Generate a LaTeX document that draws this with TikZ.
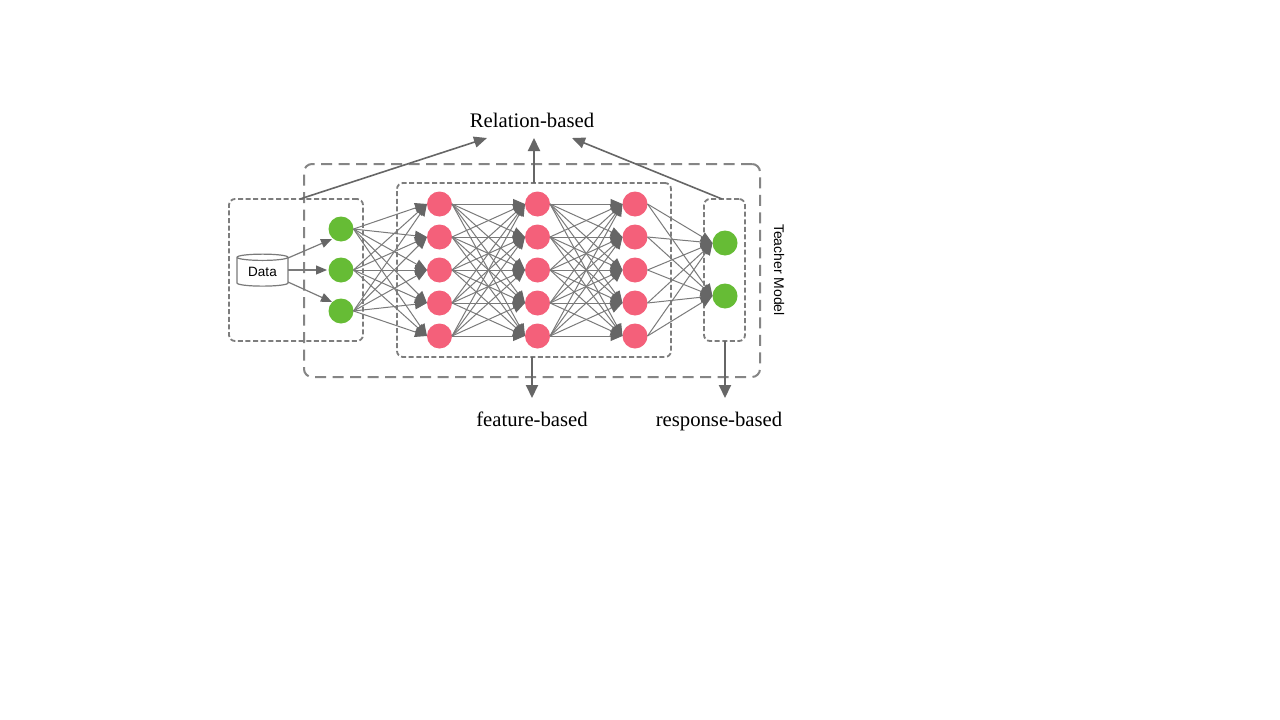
\documentclass[tikz,border=0pt]{standalone}
\usepackage{fontspec}
\setmainfont{Liberation Serif}
\setsansfont{Liberation Sans}
\usetikzlibrary{arrows.meta,shapes.geometric}
\definecolor{redn}{HTML}{F4607A}
\definecolor{greenn}{HTML}{66BC35}
\definecolor{lin}{HTML}{666666}
\definecolor{linl}{HTML}{7A7A7A}
\tikzset{
 x=1pt,y=-1pt,
 rednode/.style={circle,fill=redn,minimum size=25pt,inner sep=0pt,outer sep=0pt},
 greennode/.style={circle,fill=greenn,minimum size=25pt,inner sep=0pt,outer sep=0pt},
 box/.style={draw=lin!85,line width=1.8pt,dash pattern=on 5pt off 2.6pt,rounded corners=6pt,inner sep=0pt,outer sep=0pt,anchor=north west},
 outerbox/.style={draw=lin!80,line width=2pt,dash pattern=on 11pt off 6.5pt,rounded corners=8pt,inner sep=0pt,outer sep=0pt,anchor=north west},
 edge/.style={draw=linl,line width=1pt,-{Triangle[length=12pt,width=10pt,color=lin]}},
 thick edge/.style={draw=lin,line width=2pt,-{Triangle[length=13pt,width=12pt]}},
 slant edge/.style={draw=lin,line width=1.6pt,-{Triangle[length=13pt,width=11pt]}},
 dataedge/.style={draw=linl,line width=1.2pt,-{Triangle[length=11pt,width=9pt,color=lin]}},
 label/.style={font=\fontsize{20.7}{22}\selectfont,text=black,inner sep=0pt,anchor=base},
}
\begin{document}
\begin{tikzpicture}
\useasboundingbox (0,0) rectangle (1280,720);
\fill[white] (0,0) rectangle (1280,720);
% dashed boxes
\node[outerbox,minimum width=456pt,minimum height=213pt] (teacher) at (304,164) {};
\node[box,minimum width=134pt,minimum height=142pt] (inbox) at (229,199) {};
\node[box,minimum width=274pt,minimum height=174pt] (midbox) at (397,183) {};
\node[box,minimum width=41pt,minimum height=142pt] (outbox) at (704,199) {};
% nodes
\foreach \n/\y in {1/229,2/270,3/311} \node[greennode] (i\n) at (341,\y) {};
\foreach \n/\y in {1/204,2/237,3/270,4/303,5/336}{
 \node[rednode] (a\n) at (439.5,\y) {};
 \node[rednode] (b\n) at (537.5,\y) {};
 \node[rednode] (c\n) at (635,\y) {};
}
\node[greennode] (o1) at (725,243) {};
\node[greennode] (o2) at (725,296) {};
% data
\node[cylinder,shape border rotate=90,aspect=0.22,draw=linl,fill=white,line width=1.2pt,minimum width=51pt,minimum height=32pt,inner sep=0pt,font=\sffamily\fontsize{13.5}{14}\selectfont] (data) at (262.5,272) {Data};
% connectors
\foreach \s in {1,2,3}\foreach \t in {1,...,5} \draw[edge] (i\s.east) -- (a\t.west);
\foreach \s in {1,...,5}\foreach \t in {1,...,5}{
 \draw[edge] (a\s.east) -- (b\t.west);
 \draw[edge] (b\s.east) -- (c\t.west);
}
\foreach \s in {1,...,5}\foreach \t in {1,2} \draw[edge] (c\s.east) -- (o\t.west);
\coordinate (d1) at (288,258);
\coordinate (d2) at (288,270);
\coordinate (d3) at (288,282);
\coordinate (e1) at (332,239);
\coordinate (e2) at (327,270);
\coordinate (e3) at (332,302);
\draw[dataedge] (d1) -- (e1);
\draw[dataedge] (d2) -- (e2);
\draw[dataedge] (d3) -- (e3);
% labels
\node[label] (rel) at (532,127) {Relation-based};
\node[label] (feat) at (532,426) {feature-based};
\node[label] (resp) at (719,426) {response-based};
\node[rotate=-90,font=\sffamily\fontsize{14}{15}\selectfont,inner sep=0pt] (tm) at (779,270) {Teacher Model};
% thick arrows
\coordinate (r1) at (487,138);
\coordinate (r2) at (534,138);
\coordinate (r3) at (572,138);
\coordinate (f0) at (532,398);
\coordinate (p0) at (725,398);
\coordinate (s1) at (300,199);
\coordinate (s2) at (534,183);
\coordinate (s3) at (722,199);
\coordinate (s4) at (532,357);
\coordinate (s5) at (725,341);
\draw[slant edge] (s1) -- (r1);
\draw[thick edge] (s2) -- (r2);
\draw[slant edge] (s3) -- (r3);
\draw[thick edge] (s4) -- (f0);
\draw[thick edge] (s5) -- (p0);
\end{tikzpicture}
\end{document}
